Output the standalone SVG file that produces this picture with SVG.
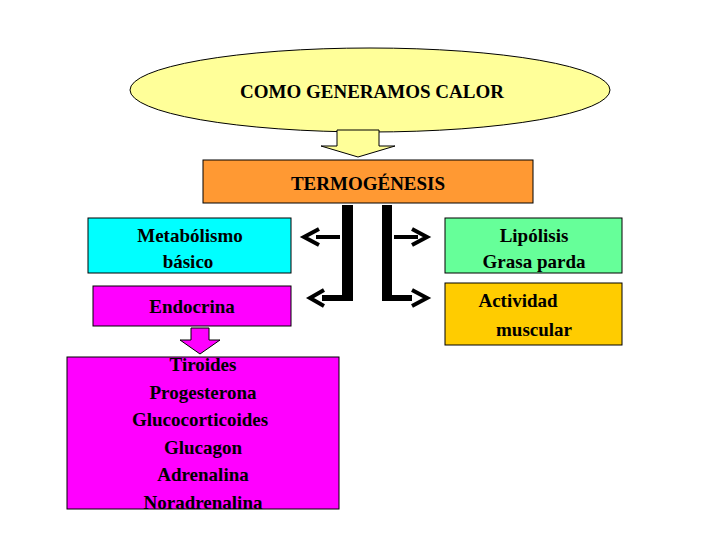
<svg xmlns="http://www.w3.org/2000/svg" width="728" height="546" viewBox="0 0 728 546">
<style>
text{font-family:"Liberation Serif",serif;font-weight:bold;font-size:19px;fill:#000;text-anchor:middle}
.b{stroke:#000;stroke-width:1}
.ar{fill:none;stroke:#000;stroke-width:4}
</style>
<rect width="728" height="546" fill="#fff"/>
<g id="calor"><ellipse cx="370" cy="90" rx="240" ry="42" fill="#ffff99" class="b"/><text x="372" y="98">COMO GENERAMOS CALOR</text></g>
<g id="flecha1"><path d="M337,130 H379 V146 H395 L358,157 L321,146 H337 Z" fill="#ffff99" class="b"/></g>
<g id="termo"><rect x="203" y="160" width="330" height="43" fill="#ff9933" class="b"/><text x="368" y="190">TERMOGÉNESIS</text></g>
<g id="metab"><rect x="88" y="218" width="203" height="55" fill="#00ffff" class="b"/><text x="190" y="242">Metabólismo</text><text x="188" y="268">básico</text></g>
<g id="lipo"><rect x="445" y="218" width="177" height="55" fill="#66ff99" class="b"/><text x="534" y="242">Lipólisis</text><text x="534" y="268">Grasa parda</text></g>
<g id="endo"><rect x="93" y="286" width="198" height="40" fill="#ff00ff" class="b"/><text x="192" y="313">Endocrina</text></g>
<g id="activ"><rect x="445" y="283" width="177" height="62" fill="#ffcc00" class="b"/><text x="518" y="307">Actividad</text><text x="534" y="336">muscular</text></g>
<g id="flecha2"><path d="M191,328 H209 V340 H220 L200,354 L180,340 H191 Z" fill="#ff00ff" class="b"/></g>
<g id="hormonas"><rect x="67" y="357" width="272" height="152" fill="#ff00ff" class="b"/>
<text x="203" y="371">Tiroides</text><text x="203" y="399">Progesterona</text><text x="200" y="426">Glucocorticoides</text><text x="203" y="454">Glucagon</text><text x="203" y="481">Adrenalina</text><text x="203" y="509">Noradrenalina</text></g>
<g id="conectores">
<path d="M342,205 H353 V301 H322 V295 H342 Z" fill="#000"/>
<path d="M382,205 H392 V295 H412 V301 H382 Z" fill="#000"/>
<path d="M316,237 H340" class="ar"/><path d="M319,229 L304,237 L319,245" class="ar"/>
<path d="M394,237 H418" class="ar"/><path d="M412,229 L427,237 L412,245" class="ar"/>
<path d="M324,290 L310,298 L324,306" class="ar"/>
<path d="M412,290 L427,298 L412,306" class="ar"/>
</g>
</svg>
